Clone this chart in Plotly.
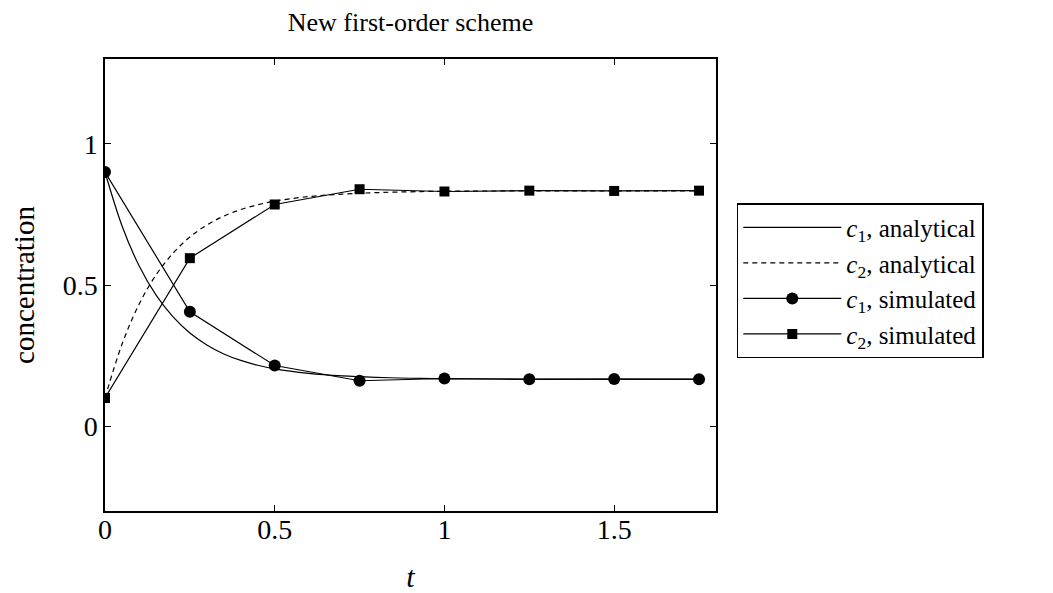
import plotly.graph_objects as go

# Simulated points
t_sim = [0, 0.25, 0.5, 0.75, 1.0, 1.25, 1.5, 1.75]
c1_sim = [0.900, 0.405, 0.215, 0.161, 0.169, 0.166, 0.167, 0.166]
c2_sim = [0.100, 0.595, 0.785, 0.839, 0.831, 0.834, 0.833, 0.834]

# Analytical curves
t_an = [0, 0.05, 0.1, 0.15, 0.2, 0.25, 0.3, 0.35, 0.4, 0.45, 0.5,
        0.6, 0.7, 0.8, 0.9, 1.0, 1.25, 1.5, 1.75]
c1_an = [0.900, 0.710, 0.569, 0.465, 0.388, 0.330, 0.288, 0.256, 0.233, 0.216, 0.203,
         0.187, 0.178, 0.173, 0.170, 0.168, 0.167, 0.167, 0.167]
c2_an = [0.100, 0.290, 0.431, 0.535, 0.612, 0.670, 0.712, 0.744, 0.767, 0.784, 0.797,
         0.813, 0.822, 0.827, 0.830, 0.832, 0.833, 0.833, 0.833]

x_ticks = [0, 0.5, 1, 1.5]
y_ticks = [0, 0.5, 1]

FONT = "Liberation Serif"

fig = go.Figure()
fig.add_trace(go.Scatter(x=t_an, y=c1_an, mode="lines", line=dict(color="black", width=1.2, shape="spline"),
                         name="<i>c</i><sub>1</sub>, analytical"))
fig.add_trace(go.Scatter(x=t_an, y=c2_an, mode="lines",
                         line=dict(color="black", width=1.2, dash="5px,4px", shape="spline"),
                         name="<i>c</i><sub>2</sub>, analytical"))
fig.add_trace(go.Scatter(x=t_sim, y=c1_sim, mode="lines+markers", line=dict(color="black", width=1.2),
                         marker=dict(symbol="circle", size=12, color="black"),
                         name="<i>c</i><sub>1</sub>, simulated"))
fig.add_trace(go.Scatter(x=t_sim, y=c2_sim, mode="lines+markers", line=dict(color="black", width=1.2),
                         marker=dict(symbol="square", size=10, color="black"),
                         name="<i>c</i><sub>2</sub>, simulated"))

axis_common = dict(showline=True, linecolor="black", linewidth=1.5, mirror="ticks",
                   ticks="inside", ticklen=6, tickwidth=1, tickcolor="black",
                   showgrid=False, zeroline=False, automargin=False,
                   tickfont=dict(family=FONT, size=28, color="black"))

W, H = 1045, 585
fig.update_layout(
    width=W, height=H,
    margin=dict(l=97, r=337, t=51, b=82),
    plot_bgcolor="white", paper_bgcolor="white",
    title=dict(text="New first-order scheme", x=(97 + 708) / 2 / W, xanchor="center",
               y=1 - 5 / H, yanchor="top", font=dict(family=FONT, size=26, color="black")),
    xaxis=dict(range=[0, 1.8], tickvals=x_ticks, ticktext=[str(v) for v in x_ticks],
               ticklabelstandoff=-7,
               title=dict(text="<i>t</i>", font=dict(family=FONT, size=30, color="black"), standoff=25),
               **axis_common),
    yaxis=dict(range=[-0.3, 1.3], tickvals=y_ticks, ticktext=[str(v) for v in y_ticks],
               title=dict(text="concentration", font=dict(family=FONT, size=29, color="black"), standoff=35),
               **axis_common),
    legend=dict(x=1.034, y=0.681, xanchor="left", yanchor="top",
                bordercolor="black", borderwidth=1.5, bgcolor="white",
                font=dict(family=FONT, size=25, color="black"),
                tracegroupgap=0, itemwidth=98),
)

fig.write_html("out.html")
